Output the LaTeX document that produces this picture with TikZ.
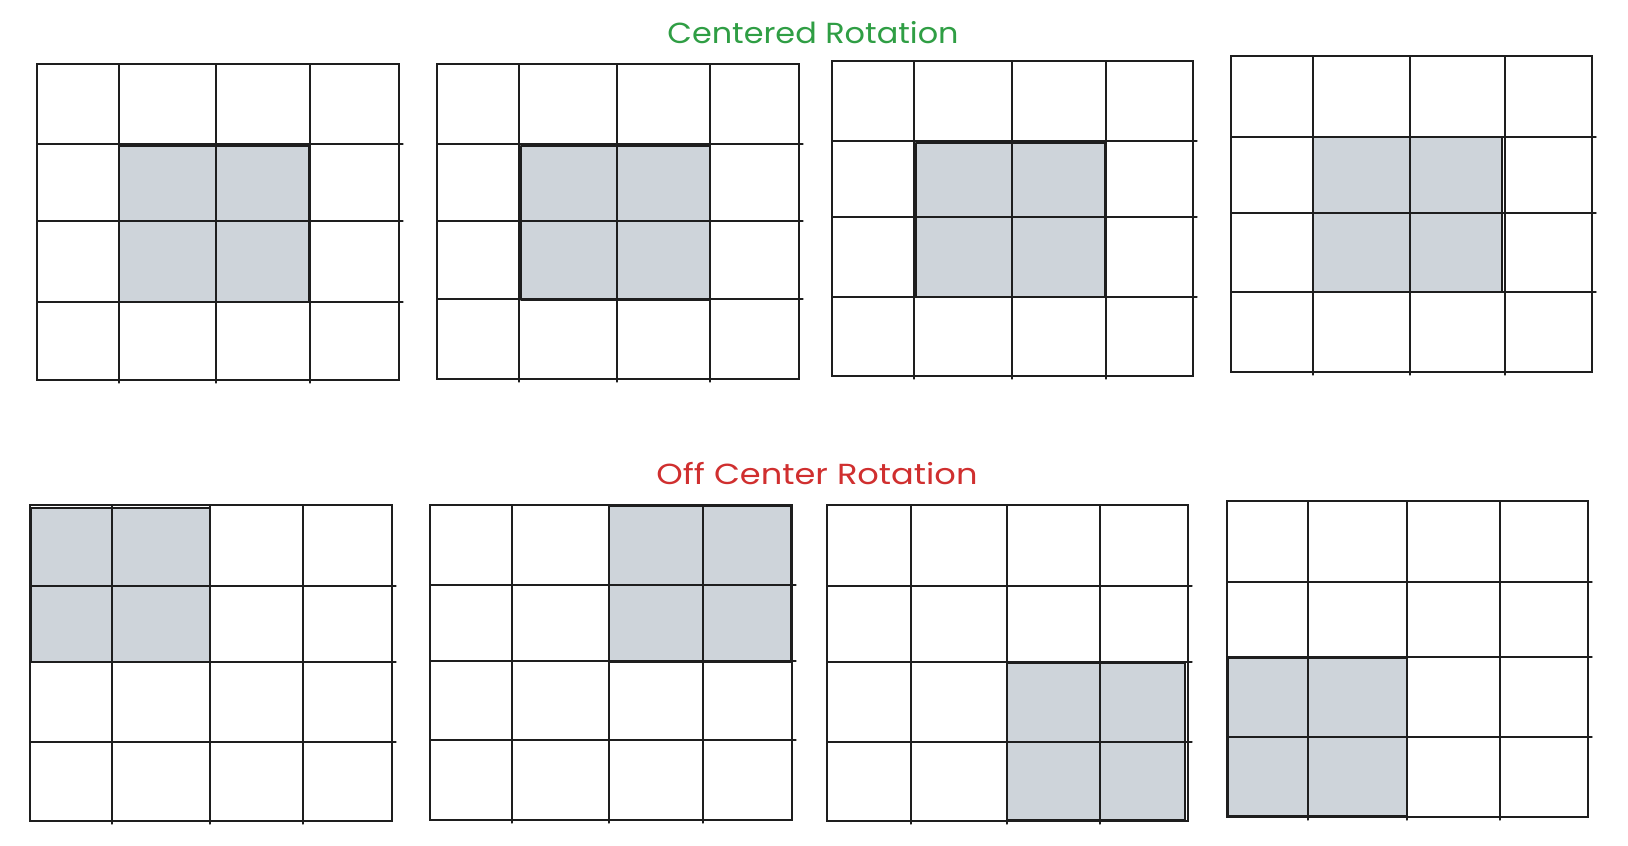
\documentclass[tikz,border=0pt]{standalone}
\usepackage{fontspec}
\setmainfont{Poppins}
\definecolor{shadegray}{HTML}{CED4DA}
\definecolor{titlegreen}{HTML}{2F9E44}
\definecolor{titlered}{HTML}{D02F2F}
\definecolor{inkgray}{HTML}{1E1E1E}
\tikzset{
  gridline/.style={draw=inkgray, line width=1.3pt, line cap=round},
  shadebox/.style={fill=shadegray},
  shadeedge/.style={draw=inkgray, line width=1.6pt, line join=round},
  titletext/.style={font=\fontsize{29}{32}\selectfont, inner sep=0pt, anchor=base}
}
% \rotgrid{L}{R}{T}{B}{x-lines}{y-lines}
\newcommand{\rotgrid}[6]{%
  \draw[gridline] (#1,#3) rectangle (#2,#4);
  \foreach \xx in {#5} {\draw[gridline] (\xx,#3) -- (\xx,#4+3);}
  \foreach \yy in {#6} {\draw[gridline] (#1,\yy) -- (#2+4,\yy);}
}
\begin{document}
\begin{tikzpicture}[x=1pt,y=-1pt]
\useasboundingbox (0,0) rectangle (1628,846);
\fill[white] (0,0) rectangle (1628,846);

\node[titletext, text=titlegreen] (toptitle) at (813,43) {\scalebox{1.1}[1]{Centered Rotation}};
\node[titletext, text=titlered] (bottomtitle) at (817,484) {\scalebox{1.16}[1]{Off Center Rotation}};

% ---- top row: centered ----
\fill[shadebox] (119,146) rectangle (309,302);
\rotgrid{37}{399}{64}{380}{119,216,310}{144,221,302}
\draw[shadeedge] (119,146) rectangle (309,302);

\fill[shadebox] (521,146) rectangle (710,300);
\rotgrid{437}{799}{64}{379}{519,617,710}{144,221,299}
\draw[shadeedge] (521,146) rectangle (710,300);

\fill[shadebox] (916,143) rectangle (1105,297);
\rotgrid{832}{1193}{61}{376}{914,1012,1106}{141,217,297}
\draw[shadeedge] (916,143) rectangle (1105,297);

\fill[shadebox] (1313,137) rectangle (1502,292);
\rotgrid{1231}{1592}{56}{372}{1313,1410,1505}{137,213,292}
\draw[shadeedge] (1313,137) rectangle (1502,292);

% ---- bottom row: off center ----
\fill[shadebox] (31,508) rectangle (210,662);
\rotgrid{30}{392}{505}{821}{112,210,303}{586,662,742}
\draw[shadeedge] (31,508) rectangle (210,662);

\fill[shadebox] (609,506) rectangle (791,662);
\rotgrid{430}{792}{505}{820}{512,609,703}{585,661,740}
\draw[shadeedge] (609,506) rectangle (791,662);

\fill[shadebox] (1007,663) rectangle (1185,820);
\rotgrid{827}{1188}{505}{821}{911,1007,1100}{586,662,742}
\draw[shadeedge] (1007,663) rectangle (1185,820);

\fill[shadebox] (1228,658) rectangle (1407,816);
\rotgrid{1227}{1588}{501}{817}{1308,1407,1500}{582,657,737}
\draw[shadeedge] (1228,658) rectangle (1407,816);
\end{tikzpicture}
\end{document}
